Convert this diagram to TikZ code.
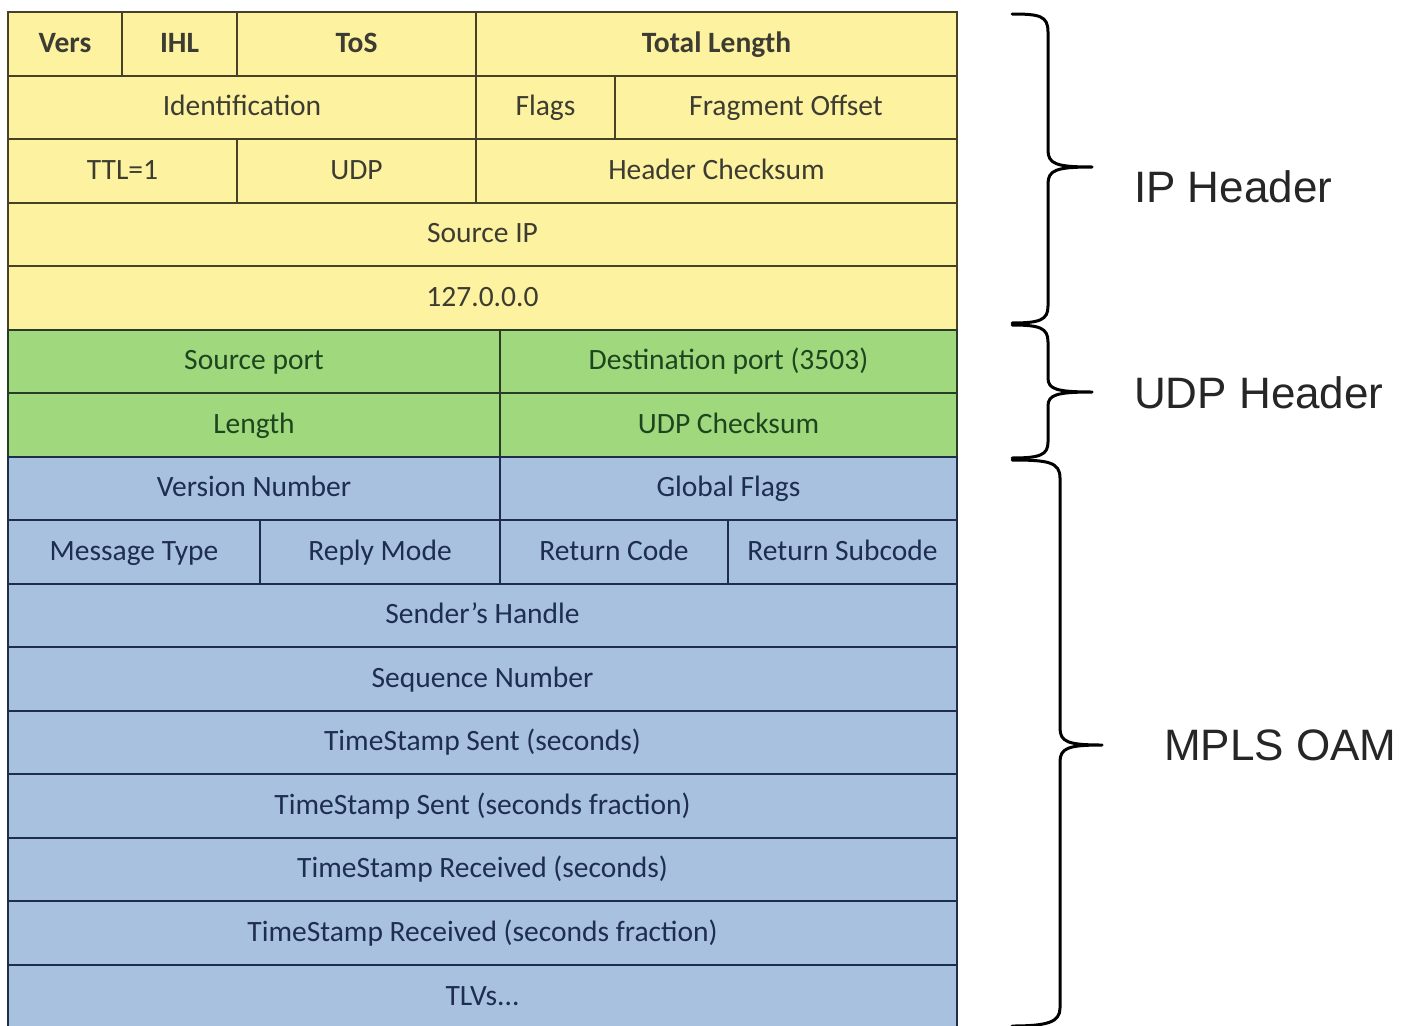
\documentclass[tikz,border=0pt]{standalone}
\usepackage{fontspec}
\setmainfont{Carlito}
\newfontfamily\arialf{Liberation Sans}
\definecolor{ipfill}{RGB}{253,242,160}
\definecolor{udpfill}{RGB}{160,216,126}
\definecolor{oamfill}{RGB}{167,193,222}
\definecolor{ipline}{RGB}{70,66,40}
\definecolor{udpline}{RGB}{40,60,40}
\definecolor{oamline}{RGB}{30,45,75}
\definecolor{iptext}{RGB}{60,60,50}
\definecolor{udptext}{RGB}{30,70,30}
\definecolor{oamtext}{RGB}{30,45,80}
\tikzset{
  celltext/.style={font=\fontsize{29.5}{34}\selectfont,inner sep=0pt,text height=22pt,text depth=5pt},
  ipcell/.style={fill=ipfill,draw=ipline,line width=2pt},
  udpcell/.style={fill=udpfill,draw=udpline,line width=2pt},
  oamcell/.style={fill=oamfill,draw=oamline,line width=2pt},
  iptxt/.style={celltext,text=iptext},
  udptxt/.style={celltext,text=udptext},
  oamtxt/.style={celltext,text=oamtext},
  brace/.style={draw=black,line width=3pt,line cap=round,line join=round},
  grouplabel/.style={font=\arialf\fontsize{44}{50}\selectfont,text=black!85,anchor=west,inner sep=0pt}
}
% #1 kind, #2 name, #3 x1, #4 y1, #5 x2, #6 y2, #7 text
\newcommand\fld[7]{%
  \path[#1cell] (#3,#4) rectangle (#5,#6);
  \node[#1txt] (#2) at ({(#3+#5)/2},{(#4+#6)/2}) {#7};}
\begin{document}
\begin{tikzpicture}[x=1pt,y=-1pt]
\useasboundingbox (0,0) rectangle (1413,1025);
\clip (0,0) rectangle (1413,1025);
\fill[white] (0,0) rectangle (1413,1025);
% IP header
\fld{ip}{vers}{8}{12}{122}{75.5}{\textbf{Vers}}
\fld{ip}{ihl}{122}{12}{237}{75.5}{\textbf{IHL}}
\fld{ip}{tos}{237}{12}{476}{75.5}{\textbf{ToS}}
\fld{ip}{tlen}{476}{12}{957}{75.5}{\textbf{Total Length}}
\fld{ip}{ident}{8}{75.5}{476}{139}{Identification}
\fld{ip}{flags}{476}{75.5}{615}{139}{Flags}
\fld{ip}{frag}{615}{75.5}{957}{139}{Fragment Offset}
\fld{ip}{ttl}{8}{139}{237}{202.5}{TTL=1}
\fld{ip}{proto}{237}{139}{476}{202.5}{UDP}
\fld{ip}{hcs}{476}{139}{957}{202.5}{Header Checksum}
\fld{ip}{srcip}{8}{202.5}{957}{266}{Source IP}
\fld{ip}{dstip}{8}{266}{957}{329.5}{127.0.0.0}
% UDP header
\fld{udp}{sport}{8}{329.5}{500}{393}{Source port}
\fld{udp}{dport}{500}{329.5}{957}{393}{Destination port (3503)}
\fld{udp}{ulen}{8}{393}{500}{456.5}{Length}
\fld{udp}{ucs}{500}{393}{957}{456.5}{UDP Checksum}
% MPLS OAM
\fld{oam}{vnum}{8}{456.5}{500}{520}{Version Number}
\fld{oam}{gflags}{500}{456.5}{957}{520}{Global Flags}
\fld{oam}{mtype}{8}{520}{260}{583.5}{Message Type}
\fld{oam}{rmode}{260}{520}{500}{583.5}{Reply Mode}
\fld{oam}{rcode}{500}{520}{728}{583.5}{Return Code}
\fld{oam}{rsub}{728}{520}{957}{583.5}{Return Subcode}
\fld{oam}{handle}{8}{583.5}{957}{647}{Sender’s Handle}
\fld{oam}{seq}{8}{647}{957}{710.5}{Sequence Number}
\fld{oam}{tss}{8}{710.5}{957}{774}{TimeStamp Sent (seconds)}
\fld{oam}{tssf}{8}{774}{957}{837.5}{TimeStamp Sent (seconds fraction)}
\fld{oam}{tsr}{8}{837.5}{957}{901}{TimeStamp Received (seconds)}
\fld{oam}{tsrf}{8}{901}{957}{964.5}{TimeStamp Received (seconds fraction)}
\fld{oam}{tlv}{8}{964.5}{957}{1030}{TLVs...}
% braces
\coordinate (ipT) at (1092,167);
\coordinate (udpT) at (1092,392);
\coordinate (oamT) at (1102,745);
\draw[brace] (1012,14) .. controls (1040,14) and (1048,16) .. (1048,32) -- (1048,150)
  .. controls (1048,164) and (1056,167) .. (ipT)
  .. controls (1056,167) and (1048,170) .. (1048,184) -- (1048,306)
  .. controls (1048,320) and (1040,323) .. (1012,323);
\draw[brace] (1012,325) .. controls (1040,325) and (1048,328) .. (1048,342) -- (1048,378)
  .. controls (1048,389) and (1056,392) .. (udpT)
  .. controls (1056,392) and (1048,395) .. (1048,406) -- (1048,442)
  .. controls (1048,455) and (1040,458) .. (1012,458);
\draw[brace] (1012,460) .. controls (1048,460) and (1060,462) .. (1060,478) -- (1060,728)
  .. controls (1060,742) and (1068,745) .. (oamT)
  .. controls (1068,745) and (1060,748) .. (1060,762) -- (1060,1008)
  .. controls (1060,1022) and (1048,1026) .. (1012,1026);
\node[grouplabel] (iplab) at (1134,187) {IP Header};
\node[grouplabel] (udplab) at (1134,393) {UDP Header};
\node[grouplabel] (oamlab) at (1164,745) {MPLS OAM};
\end{tikzpicture}
\end{document}
